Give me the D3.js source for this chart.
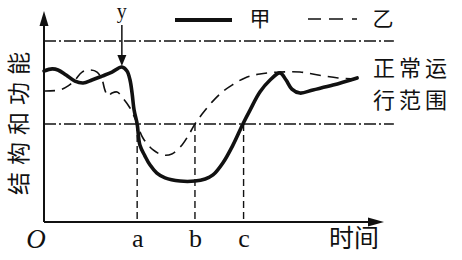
<!DOCTYPE html>
<html>
<head>
<meta charset="utf-8">
<script src="https://cdn.jsdelivr.net/npm/d3@7"></script>
<style>
  body { margin: 0; background: #fff; }
  svg { display: block; }
</style>
</head>
<body>
<div id="chart"></div>
<script>
// time / level values (0-100 on both axes)
var jiaTime  = [0, 2.4, 4.1, 6.5, 9.1, 11.5, 14.1, 17.1, 20.0, 22.9, 24.4, 25.3, 25.9, 26.5, 27.4, 28.2, 29.7, 31.2, 33.2, 35.6, 40.0, 44.4, 47.4, 49.7, 52.6, 55.6, 58.5, 60.6, 63.5, 66.5, 69.4, 71.2, 72.9, 75.3, 79.1, 85.0, 92.1];
var jiaLevel = [71.9, 72.9, 72.4, 70.0, 67.1, 66.2, 67.6, 69.5, 71.4, 73.8, 71.9, 67.6, 61.4, 53.3, 46.7, 36.7, 31.4, 27.1, 23.3, 21.0, 19.5, 19.5, 20.5, 22.4, 28.1, 36.7, 46.7, 53.3, 61.9, 67.6, 71.0, 67.6, 63.3, 61.4, 62.9, 65.2, 68.6];

var yiTime  = [0, 4.7, 7.1, 9.1, 11.2, 13.5, 15.6, 17.1, 17.9, 18.8, 20.0, 21.5, 23.2, 25.3, 27.1, 29.1, 32.1, 35.0, 37.6, 40.6, 42.9, 44.4, 46.5, 49.4, 52.4, 55.3, 59.1, 63.5, 69.4, 75.3, 80.6, 86.5, 92.1];
var yiLevel = [62.4, 62.9, 64.8, 67.6, 71.4, 72.4, 71.4, 67.6, 62.9, 60.0, 61.4, 61.9, 59.0, 54.3, 48.1, 40.0, 34.3, 31.9, 32.4, 36.7, 42.4, 46.7, 51.4, 57.1, 61.9, 65.2, 68.6, 70.5, 71.4, 71.4, 70.0, 68.6, 68.1];

var normalRange = [46.7, 86.2];       // 正常运行范围 lower / upper
var tickNames = ["a", "b", "c"];
var tickTimes = [27.4, 44.4, 58.7];
var tickLevels = [46.7, 46.7, 46.7];  // where the dashed drop lines start
var stressTime = 22.9;                // y 处
var seriesNames = ["甲", "乙"];

var svgWidth = 462;
var svgHeight = 260;
var ink = "#111";

var svg = d3.select("#chart")
  .append("svg")
  .attr("width", svgWidth)
  .attr("height", svgHeight);

var xScale = d3.scaleLinear().domain([0, 100]).range([44, 384]);
var yScale = d3.scaleLinear().domain([0, 100]).range([222, 12]);

var zhFont = "'Noto Sans CJK SC', 'Noto Sans', sans-serif";
var serif = "'Liberation Serif', 'DejaVu Serif', serif";

// normal range lines (dash-dot)
svg.selectAll(".bound")
  .data(normalRange)
  .enter()
  .append("line")
  .attr("class", "bound")
  .attr("x1", xScale(0))
  .attr("x2", xScale(102.9))
  .attr("y1", d => yScale(d))
  .attr("y2", d => yScale(d))
  .attr("stroke", ink)
  .attr("stroke-width", 1.4)
  .attr("stroke-dasharray", "12,3,2,3");

// drop lines to a, b, c
svg.selectAll(".drop")
  .data(tickTimes)
  .enter()
  .append("line")
  .attr("class", "drop")
  .attr("x1", d => xScale(d))
  .attr("x2", d => xScale(d))
  .attr("y1", (d, i) => yScale(tickLevels[i]))
  .attr("y2", yScale(0))
  .attr("stroke", ink)
  .attr("stroke-width", 1.4)
  .attr("stroke-dasharray", "7,4");

// axes
svg.append("line")
  .attr("x1", xScale(0)).attr("y1", yScale(0))
  .attr("x2", xScale(100) - 6).attr("y2", yScale(0))
  .attr("stroke", ink).attr("stroke-width", 2);
svg.append("path")
  .attr("d", `M${xScale(100)},${yScale(0)} l-16,-4.5 l0,9 z`)
  .attr("fill", ink);

svg.append("line")
  .attr("x1", xScale(0)).attr("y1", yScale(0))
  .attr("x2", xScale(0)).attr("y2", yScale(100) + 6)
  .attr("stroke", ink).attr("stroke-width", 2);
svg.append("path")
  .attr("d", `M${xScale(0)},${yScale(100) - 1} l-4.5,15 l9,0 z`)
  .attr("fill", ink);

var xAxis = d3.axisBottom(xScale)
  .tickValues(tickTimes)
  .tickFormat((d, i) => tickNames[i])
  .tickSize(0)
  .tickPadding(7);

var xg = svg.append("g")
  .attr("transform", `translate(0, ${yScale(0)})`)
  .call(xAxis);
xg.select(".domain").remove();
xg.selectAll("text")
  .style("font-family", serif)
  .style("font-size", "26px")
  .attr("fill", ink);

svg.append("text")
  .attr("x", 36).attr("y", 248)
  .attr("text-anchor", "middle")
  .style("font-family", serif)
  .style("font-style", "italic")
  .style("font-size", "27px")
  .attr("fill", ink)
  .text("O");

svg.append("text")
  .attr("x", 329).attr("y", 247)
  .style("font-family", zhFont)
  .style("font-size", "25px")
  .attr("fill", ink)
  .text("时间");

svg.append("text")
  .attr("transform", "translate(27, 120) rotate(-90)")
  .attr("text-anchor", "middle")
  .style("font-family", zhFont)
  .style("font-size", "23px")
  .style("letter-spacing", "7px")
  .attr("fill", ink)
  .text("结构和功能");

svg.append("text")
  .attr("x", 373).attr("y", 76)
  .style("font-family", zhFont)
  .style("font-size", "22px")
  .style("letter-spacing", "4px")
  .attr("fill", ink)
  .text("正常运");
svg.append("text")
  .attr("x", 373).attr("y", 108)
  .style("font-family", zhFont)
  .style("font-size", "22px")
  .style("letter-spacing", "4px")
  .attr("fill", ink)
  .text("行范围");

// curves
var line = d3.line()
  .x(d => xScale(d[0]))
  .y(d => yScale(d[1]))
  .curve(d3.curveCatmullRom.alpha(0.5));

svg.append("path")
  .datum(d3.zip(yiTime, yiLevel))
  .attr("d", line)
  .attr("fill", "none")
  .attr("stroke", ink)
  .attr("stroke-width", 1.6)
  .attr("stroke-dasharray", "11,7");

svg.append("path")
  .datum(d3.zip(jiaTime, jiaLevel))
  .attr("d", line)
  .attr("fill", "none")
  .attr("stroke", ink)
  .attr("stroke-width", 3.6)
  .attr("stroke-linejoin", "round")
  .attr("stroke-linecap", "round");

// y marker with arrow
var sx = xScale(stressTime);
svg.append("text")
  .attr("x", sx).attr("y", 18)
  .attr("text-anchor", "middle")
  .style("font-family", serif)
  .style("font-size", "20px")
  .attr("fill", ink)
  .text("y");
svg.append("line")
  .attr("x1", sx).attr("y1", 25)
  .attr("x2", sx).attr("y2", 57)
  .attr("stroke", ink).attr("stroke-width", 1.5);
svg.append("path")
  .attr("d", `M${sx},${yScale(d3.max(jiaLevel)) - 1} l-4.5,-11 l9,0 z`)
  .attr("fill", ink);

// legend
svg.append("line")
  .attr("x1", 175).attr("x2", 232)
  .attr("y1", 20).attr("y2", 20)
  .attr("stroke", ink).attr("stroke-width", 4);
svg.append("line")
  .attr("x1", 308).attr("x2", 358)
  .attr("y1", 19).attr("y2", 19)
  .attr("stroke", ink).attr("stroke-width", 1.6)
  .attr("stroke-dasharray", "13,8,14,9,5");

svg.selectAll(".legtext")
  .data(seriesNames)
  .enter()
  .append("text")
  .attr("class", "legtext")
  .attr("x", (d, i) => i === 0 ? 260 : 383)
  .attr("y", 26)
  .attr("text-anchor", "middle")
  .style("font-family", zhFont)
  .style("font-size", "21px")
  .attr("fill", ink)
  .text(d => d);
</script>
</body>
</html>
